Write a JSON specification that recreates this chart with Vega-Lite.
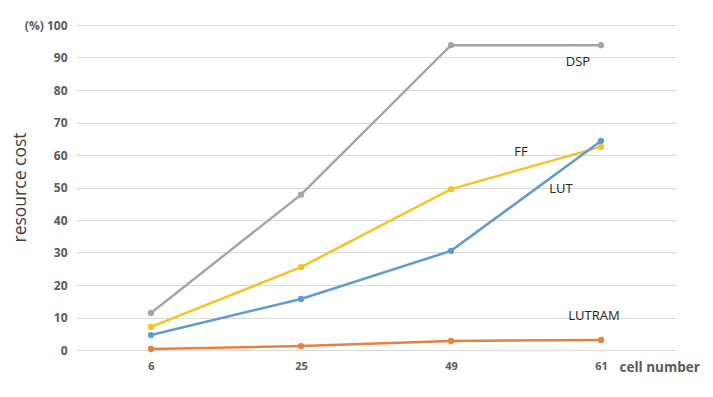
{
  "$schema": "https://vega.github.io/schema/vega-lite/v6.json",
  "width": 600,
  "height": 325,
  "autosize": "none",
  "padding": {"left": 76, "top": 25, "right": 37, "bottom": 47},
  "background": "white",
  "config": {"view": {"stroke": null}, "font": "Open Sans"},
  "datasets": {
    "series": [
      {"cell": 6, "resource": "DSP", "value": 11.4},
      {"cell": 25, "resource": "DSP", "value": 47.8},
      {"cell": 49, "resource": "DSP", "value": 93.8},
      {"cell": 61, "resource": "DSP", "value": 93.8},
      {"cell": 6, "resource": "FF", "value": 7.1},
      {"cell": 25, "resource": "FF", "value": 25.5},
      {"cell": 49, "resource": "FF", "value": 49.5},
      {"cell": 61, "resource": "FF", "value": 62.5},
      {"cell": 6, "resource": "LUT", "value": 4.6},
      {"cell": 25, "resource": "LUT", "value": 15.7},
      {"cell": 49, "resource": "LUT", "value": 30.5},
      {"cell": 61, "resource": "LUT", "value": 64.3},
      {"cell": 6, "resource": "LUTRAM", "value": 0.3},
      {"cell": 25, "resource": "LUTRAM", "value": 1.2},
      {"cell": 49, "resource": "LUTRAM", "value": 2.8},
      {"cell": 61, "resource": "LUTRAM", "value": 3.1}
    ],
    "labels": [
      {"cell": 61, "resource": "DSP", "value": 88.6},
      {"cell": 61, "resource": "FF", "value": 61},
      {"cell": 61, "resource": "LUT", "value": 49.5},
      {"cell": 61, "resource": "LUTRAM", "value": 10.5}
    ]
  },
  "encoding": {
    "x": {
      "field": "cell",
      "type": "ordinal",
      "sort": [6, 25, 49, 61],
      "scale": {"type": "point", "padding": 0.5},
      "axis": {
        "title": "cell number",
        "titleFont": "Open Sans",
        "titleFontSize": 13.5,
        "titleFontWeight": "bold",
        "titleColor": "#595959",
        "titleAlign": "left",
        "titleBaseline": "middle",
        "titleX": 543,
        "titleY": 17,
        "labelAngle": 0,
        "labelFontSize": 11,
        "labelFontWeight": "bold",
        "labelColor": "#595959",
        "labelPadding": 10,
        "ticks": false,
        "domain": false,
        "grid": false
      }
    },
    "y": {
      "field": "value",
      "type": "quantitative",
      "scale": {"domain": [0, 100], "nice": false},
      "axis": {
        "values": [0, 10, 20, 30, 40, 50, 60, 70, 80, 90, 100],
        "labelExpr": "datum.value == 100 ? '(%) 100' : datum.label",
        "title": "resource cost",
        "titleFont": "Open Sans",
        "titleFontSize": 17.5,
        "titleFontWeight": "normal",
        "titleColor": "#404040",
        "titleAngle": -90,
        "titleAlign": "center",
        "titleBaseline": "middle",
        "titleX": -56,
        "titleY": 162,
        "labelFontSize": 12,
        "labelFontWeight": "bold",
        "labelColor": "#595959",
        "labelPadding": 9,
        "ticks": false,
        "domain": false,
        "grid": true,
        "gridColor": "#d9d9d9",
        "gridWidth": 1
      }
    },
    "color": {
      "field": "resource",
      "type": "nominal",
      "scale": {
        "domain": ["DSP", "FF", "LUT", "LUTRAM"],
        "range": ["#a5a5a5", "#f5c227", "#5f9ccc", "#e4823f"]
      },
      "legend": null
    }
  },
  "layer": [
    {
      "data": {"name": "series"},
      "mark": {"type": "line", "strokeWidth": 2.5, "point": {"filled": true, "size": 40}}
    },
    {
      "data": {"name": "labels"},
      "transform": [{"filter": "datum.resource == 'DSP'"}],
      "mark": {"type": "text", "font": "Open Sans", "fontSize": 13, "align": "center", "baseline": "middle", "dx": -23},
      "encoding": {"text": {"field": "resource", "type": "nominal"}, "color": {"value": "#222222"}}
    },
    {
      "data": {"name": "labels"},
      "transform": [{"filter": "datum.resource == 'FF'"}],
      "mark": {"type": "text", "font": "Open Sans", "fontSize": 13, "align": "center", "baseline": "middle", "dx": -80},
      "encoding": {"text": {"field": "resource", "type": "nominal"}, "color": {"value": "#222222"}}
    },
    {
      "data": {"name": "labels"},
      "transform": [{"filter": "datum.resource == 'LUT'"}],
      "mark": {"type": "text", "font": "Open Sans", "fontSize": 13, "align": "center", "baseline": "middle", "dx": -40},
      "encoding": {"text": {"field": "resource", "type": "nominal"}, "color": {"value": "#222222"}}
    },
    {
      "data": {"name": "labels"},
      "transform": [{"filter": "datum.resource == 'LUTRAM'"}],
      "mark": {"type": "text", "font": "Open Sans", "fontSize": 13, "align": "center", "baseline": "middle", "dx": -7},
      "encoding": {"text": {"field": "resource", "type": "nominal"}, "color": {"value": "#222222"}}
    }
  ]
}
